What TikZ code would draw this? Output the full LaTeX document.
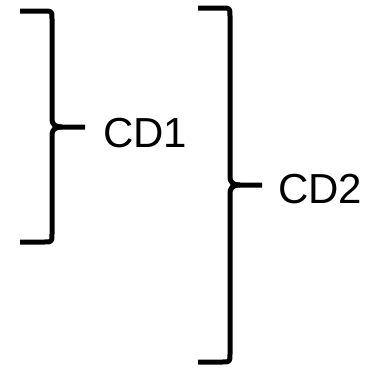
\documentclass[tikz,border=0pt]{standalone}
\usepackage{fontspec}
\setmainfont{Liberation Sans}
\begin{document}
\begin{tikzpicture}[x=1pt,y=-1pt,
  brace/.style={line width=5pt,line cap=butt,line join=round},
  lbl/.style={anchor=base west,inner sep=0pt,font=\fontsize{42}{50}\selectfont}]
\useasboundingbox (0,0) rectangle (366,370);
% brace 1
\coordinate (t1) at (62,127);
\draw[brace] (20,11) -- (44,11) .. controls (52,11) .. (52,19) -- (52,118)
  .. controls (52,125) and (55,127) .. (t1) -- (85,127);
\draw[brace] (20,242) -- (44,242) .. controls (52,242) .. (52,234) -- (52,136)
  .. controls (52,129) and (55,127) .. (t1);
% brace 2
\coordinate (t2) at (240,185);
\draw[brace] (198,8) -- (222,8) .. controls (230,8) .. (230,16) -- (230,176)
  .. controls (230,183) and (233,185) .. (t2) -- (262,185);
\draw[brace] (198,362) -- (222,362) .. controls (230,362) .. (230,354) -- (230,194)
  .. controls (230,187) and (233,185) .. (t2);
\node[lbl] (cd1) at (103,147) {CD1};
\node[lbl] (cd2) at (278,203) {CD2};
\end{tikzpicture}
\end{document}
